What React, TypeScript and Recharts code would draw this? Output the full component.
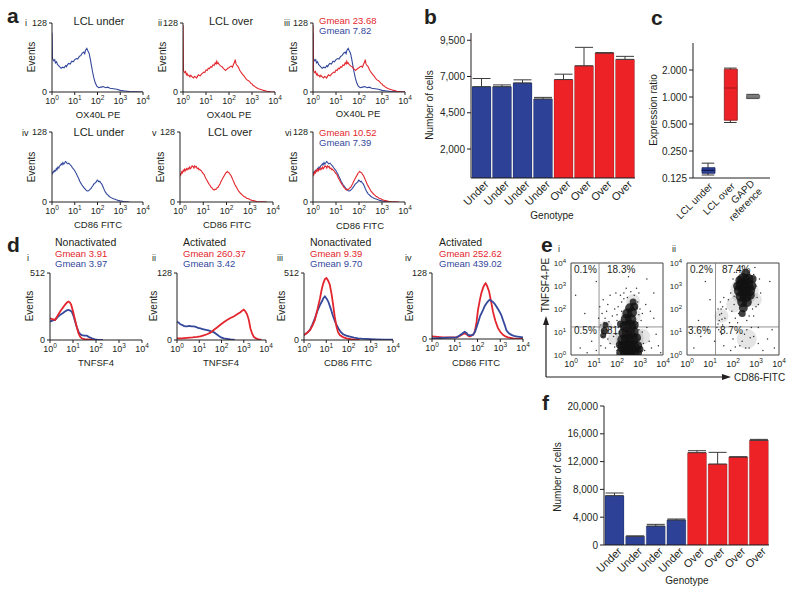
import React from 'react';
import {
  LineChart, Line, XAxis, YAxis, BarChart, Bar, Cell, ErrorBar,
  ComposedChart, ScatterChart, Scatter, ReferenceLine, ReferenceArea,
} from 'recharts';

const FONT = '"Liberation Sans", Arial, Helvetica, sans-serif';
const INK = '#231f20';
const BLUE = '#34489c';
const RED = '#e3262d';
const BAR_BLUE = '#2d4196';
const BAR_RED = '#ec2227';

type Pt = [number, number];
type Blob = [number, number, number];

// ---------- Panel a: histograms (x = log10 fluorescence, y = events) ----------
const underOX40L: Pt[] = [
  [0, 110], [0.02, 62], [0.08, 58], [0.12, 60], [0.15, 54], [0.2, 56], [0.24, 51], [0.27, 50], [0.33, 47], [0.4, 44], [0.47, 46],
  [0.53, 45], [0.6, 49], [0.64, 47], [0.67, 50], [0.73, 53], [0.8, 52], [0.87, 57], [0.93, 56], [1.0, 60], [1.07, 62],
  [1.13, 61], [1.2, 66], [1.27, 68], [1.33, 72], [1.4, 74], [1.44, 71], [1.47, 77], [1.53, 81], [1.58, 76], [1.63, 72],
  [1.68, 62], [1.73, 50], [1.78, 38], [1.84, 26], [1.9, 17], [1.97, 11], [2.05, 8], [2.15, 9], [2.25, 10],
  [2.35, 8], [2.45, 9], [2.55, 7], [2.7, 6], [2.85, 5], [3.0, 3], [3.2, 2], [3.4, 1], [3.7, 0.5], [4, 0],
];
const overOX40L: Pt[] = [
  [0, 124], [0.02, 40], [0.05, 37], [0.08, 36], [0.11, 38], [0.15, 32], [0.18, 34], [0.22, 30], [0.26, 31],
  [0.3, 28], [0.34, 31], [0.38, 29], [0.42, 27], [0.46, 26], [0.5, 29], [0.55, 28], [0.59, 26], [0.63, 29],
  [0.67, 32], [0.7, 31], [0.75, 30], [0.8, 33], [0.85, 35], [0.9, 37], [0.95, 36], [1.0, 41], [1.05, 40],
  [1.1, 44], [1.15, 43], [1.2, 47], [1.25, 46], [1.3, 50], [1.35, 49], [1.4, 54], [1.44, 52], [1.47, 57],
  [1.5, 53], [1.53, 54], [1.57, 51], [1.6, 50], [1.65, 48], [1.7, 47], [1.75, 44], [1.8, 42], [1.85, 40],
  [1.9, 42], [1.95, 44], [2.0, 45], [2.05, 47], [2.1, 48], [2.15, 46], [2.2, 52], [2.24, 55], [2.27, 60],
  [2.3, 53], [2.33, 50], [2.38, 48], [2.42, 45], [2.46, 41], [2.5, 38], [2.55, 35], [2.6, 32], [2.65, 30],
  [2.7, 27], [2.75, 24], [2.8, 22], [2.85, 21], [2.9, 19], [2.95, 16], [3.0, 15], [3.05, 12], [3.1, 11],
  [3.15, 9], [3.2, 8], [3.28, 6], [3.35, 5], [3.42, 4], [3.5, 3], [3.65, 1.5], [3.8, 0.5], [4, 0],
];
const underCD86: Pt[] = [
  [0, 54], [0.03, 52], [0.06, 56], [0.09, 55], [0.12, 58], [0.16, 57], [0.19, 61], [0.22, 59], [0.26, 64],
  [0.3, 62], [0.33, 66], [0.37, 67], [0.41, 70], [0.44, 68], [0.48, 72], [0.52, 69], [0.55, 71], [0.59, 74],
  [0.63, 73], [0.67, 70], [0.7, 70], [0.74, 71], [0.78, 69], [0.82, 67], [0.85, 66], [0.89, 63], [0.93, 61],
  [0.97, 59], [1.0, 57], [1.04, 54], [1.07, 52], [1.11, 48], [1.15, 45], [1.19, 41], [1.22, 38], [1.26, 35],
  [1.3, 32], [1.34, 30], [1.37, 28], [1.41, 26], [1.45, 24], [1.49, 22], [1.52, 21], [1.55, 20], [1.58, 20],
  [1.62, 21], [1.65, 22], [1.69, 24], [1.72, 25], [1.76, 28], [1.8, 30], [1.84, 33], [1.88, 34], [1.92, 36],
  [1.95, 37], [1.99, 40], [2.02, 39], [2.06, 37], [2.1, 38], [2.14, 35], [2.17, 34], [2.21, 31], [2.24, 28],
  [2.28, 24], [2.31, 21], [2.35, 18], [2.4, 15], [2.45, 13], [2.5, 11], [2.55, 9], [2.6, 8], [2.65, 7],
  [2.7, 6], [2.77, 5], [2.83, 4], [2.9, 3], [3.0, 2], [3.15, 1], [3.4, 0],
];
const overCD86: Pt[] = [
  [0, 52], [0.03, 49], [0.07, 55], [0.1, 53], [0.14, 58], [0.17, 56], [0.2, 60], [0.24, 57], [0.28, 61],
  [0.31, 59], [0.35, 62], [0.38, 60], [0.42, 64], [0.45, 61], [0.49, 63], [0.52, 66], [0.56, 65], [0.6, 62],
  [0.63, 66], [0.67, 64], [0.7, 65], [0.74, 61], [0.78, 62], [0.81, 59], [0.85, 60], [0.88, 58], [0.92, 57],
  [0.96, 54], [1.0, 52], [1.04, 50], [1.07, 47], [1.1, 44], [1.14, 41], [1.18, 38], [1.22, 35], [1.26, 32],
  [1.3, 30], [1.33, 27], [1.37, 26], [1.4, 24], [1.43, 23], [1.47, 22], [1.5, 23], [1.54, 23], [1.57, 24],
  [1.6, 26], [1.64, 27], [1.68, 30], [1.72, 33], [1.76, 37], [1.8, 40], [1.83, 43], [1.86, 45], [1.9, 48],
  [1.93, 50], [1.96, 53], [2.0, 54], [2.03, 56], [2.05, 55], [2.09, 54], [2.12, 53], [2.16, 50], [2.2, 48],
  [2.24, 44], [2.28, 40], [2.32, 36], [2.36, 32], [2.4, 29], [2.44, 26], [2.48, 23], [2.52, 20], [2.56, 18],
  [2.6, 16], [2.65, 14], [2.7, 12], [2.75, 10], [2.8, 9], [2.87, 7], [2.95, 6], [3.02, 4], [3.1, 3], [3.2, 2],
  [3.3, 1], [3.5, 0.5], [3.74, 0],
];

// ---------- Panel d: histograms ----------
const nonactTNFSF4Red: Pt[] = [
  [0, 166], [0.1, 160], [0.22, 154], [0.33, 185], [0.44, 218], [0.55, 245], [0.65, 269], [0.73, 285],
  [0.8, 294], [0.86, 288], [0.92, 270], [1.0, 220], [1.09, 154], [1.17, 95], [1.24, 51], [1.31, 25],
  [1.38, 13], [1.5, 7], [1.6, 5], [1.75, 2], [1.9, 0],
];
const nonactTNFSF4Blue: Pt[] = [
  [0, 141], [0.1, 148], [0.22, 154], [0.33, 175], [0.44, 192], [0.55, 205], [0.65, 218], [0.73, 226],
  [0.8, 230], [0.88, 225], [0.95, 215], [1.02, 185], [1.09, 141], [1.17, 95], [1.24, 64], [1.31, 45],
  [1.38, 38], [1.5, 34], [1.6, 33], [1.7, 22], [1.82, 12], [1.96, 5], [2.1, 1], [2.3, 0],
];
const actTNFSF4Red: Pt[] = [
  [0, 3], [0.2, 3], [0.45, 4], [0.7, 5], [0.9, 6], [1.05, 7], [1.2, 9], [1.35, 11], [1.5, 14], [1.65, 19],
  [1.8, 24], [1.95, 29], [2.1, 34], [2.25, 38], [2.4, 42], [2.55, 45], [2.7, 49], [2.85, 53], [2.93, 56],
  [3.0, 58], [3.07, 55], [3.15, 49], [3.23, 38], [3.3, 22], [3.38, 12], [3.45, 6], [3.55, 3], [3.67, 1], [3.8, 0],
];
const actTNFSF4Blue: Pt[] = [
  [0, 35], [0.08, 33], [0.15, 30], [0.22, 29], [0.3, 27], [0.38, 26], [0.45, 26], [0.55, 27], [0.65, 26],
  [0.75, 26], [0.85, 25], [0.95, 23], [1.05, 22], [1.15, 21], [1.25, 20], [1.35, 19], [1.45, 18], [1.55, 16],
  [1.65, 15], [1.75, 12], [1.87, 8], [1.98, 5], [2.1, 3], [2.25, 2], [2.4, 1], [2.6, 0],
];
const nonactCD86Red: Pt[] = [
  [0, 38], [0.14, 55], [0.27, 77], [0.38, 110], [0.49, 154], [0.6, 230], [0.72, 320], [0.8, 390], [0.87, 435],
  [0.94, 465], [1.01, 474], [1.08, 455], [1.16, 422], [1.24, 350], [1.31, 269], [1.38, 180], [1.46, 102],
  [1.53, 60], [1.61, 38], [1.75, 22], [1.91, 13], [2.1, 6], [2.3, 2], [2.5, 0],
];
const nonactCD86Blue: Pt[] = [
  [0, 38], [0.14, 55], [0.27, 77], [0.38, 120], [0.49, 166], [0.6, 220], [0.72, 269], [0.82, 300], [0.87, 320],
  [0.94, 333], [1.01, 318], [1.09, 294], [1.2, 240], [1.31, 179], [1.42, 130], [1.54, 90], [1.65, 62],
  [1.76, 44], [1.9, 33], [2.06, 26], [2.25, 18], [2.43, 13], [2.6, 10], [2.8, 8], [3.2, 5], [3.6, 3], [4, 2],
];
const actCD86Red: Pt[] = [
  [0, 5], [0.25, 4], [0.48, 3], [0.8, 3], [1.07, 3], [1.18, 5], [1.29, 8], [1.37, 10], [1.44, 11], [1.52, 9],
  [1.6, 6], [1.66, 5], [1.75, 7], [1.82, 9], [1.88, 14], [1.95, 30], [2.02, 56], [2.1, 75], [2.17, 89],
  [2.25, 100], [2.32, 106], [2.36, 108], [2.42, 103], [2.51, 92], [2.6, 72], [2.68, 53], [2.78, 36], [2.9, 21],
  [3.0, 14], [3.12, 8], [3.23, 5], [3.34, 3], [3.56, 1], [4, 0],
];
const actCD86Blue: Pt[] = [
  [0, 1], [0.5, 2], [1.07, 3], [1.18, 6], [1.29, 9], [1.37, 12], [1.44, 14], [1.52, 12], [1.58, 8], [1.7, 7],
  [1.8, 8], [1.9, 15], [2.02, 31], [2.12, 45], [2.24, 56], [2.32, 64], [2.39, 69], [2.46, 73], [2.53, 76],
  [2.6, 74], [2.68, 72], [2.76, 68], [2.83, 63], [2.9, 58], [2.97, 53], [3.05, 46], [3.12, 37], [3.2, 27],
  [3.27, 17], [3.38, 11], [3.49, 8], [3.6, 6], [3.71, 5], [3.85, 4], [4, 3],
];

// ---------- Panels b and f: bar charts ----------
const genotypeLabels = ['Under', 'Under', 'Under', 'Under', 'Over', 'Over', 'Over', 'Over'];
const bCells = [6300, 6300, 6560, 5450, 6790, 7740, 8620, 8180];
const bSem = [560, 120, 210, 110, 370, 1270, 25, 210];
const bTicks = [2000, 4500, 7000, 9500];
const fCells = [7100, 1250, 2730, 3600, 13290, 11650, 12660, 15060];
const fSem = [380, 60, 240, 140, 280, 1680, 40, 140];
const fTicks = [0, 4000, 8000, 12000, 16000, 20000];

// ---------- Panel c: box plot ----------
const cGroups = ['LCL under', 'LCL over', 'GAPD reference'];
const cMin = [0.135, 0.52, 0.96];
const cQ1 = [0.141, 0.55, 0.97];
const cMed = [0.152, 1.26, 1.0];
const cQ3 = [0.163, 2.04, 1.05];
const cMax = [0.183, 2.1, 1.07];
const cTicks = [0.125, 0.25, 0.5, 1, 2];

// ---------- Panel e: flow cytometry dot plots (log10 CD86, log10 TNFSF4) ----------
const eNonactSparse: Pt[] = [
  [1.35, 1.0], [1.42, 1.2], [1.5, 0.9], [1.45, 1.4], [1.38, 0.8], [1.55, 1.1], [1.48, 1.6], [1.6, 0.7],
  [1.3, 1.3], [1.52, 1.35], [1.4, 1.05], [1.57, 0.95], [1.25, 2.1], [1.4, 2.4], [1.55, 1.9], [1.35, 1.8],
  [1.6, 2.2], [1.2, 1.6], [1.3, 0.4], [1.5, 0.3], [1.7, 0.5], [1.8, 1.7], [1.9, 2.0], [1.75, 1.2],
  [1.85, 0.8], [2.0, 1.5], [2.05, 2.1], [2.1, 0.6], [2.15, 2.6], [2.2, 1.9], [2.3, 2.7], [2.45, 2.5],
  [2.6, 2.75], [2.75, 2.6], [2.9, 2.3], [3.0, 2.0], [3.05, 1.5], [3.1, 1.0], [3.15, 0.5], [3.2, 0.2],
  [3.3, 1.2], [3.4, 0.6], [3.5, 0.3], [3.6, 1.6], [2.95, 2.7], [2.85, 2.9], [2.4, 2.9], [1.95, 2.7],
  [3.25, 2.2], [3.45, 1.9], [3.7, 0.9], [3.8, 0.4], [2.0, 0.2], [1.9, 0.35], [0.4, 0.3], [0.6, 1.8],
  [0.9, 0.6], [0.2, 2.6], [1.1, 3.2], [3.3, 3.3], [2.5, 3.4], [0.7, 0.1], [1.1, 0.2], [3.9, 0.1], [3.6, 2.7],
  [2.05, 1.2], [1.95, 0.9], [3.0, 0.7], [3.1, 1.8], [2.9, 1.4], [2.2, 2.3], [1.65, 1.45], [1.7, 2.6],
  [2.95, 1.1], [3.05, 0.35], [2.0, 1.75], [2.1, 1.0], [2.95, 1.75], [2.85, 2.05], [2.3, 2.45], [1.62, 1.05],
];
const eNonactHaze: Blob[] = [
  [2.55, 0.7, 14], [2.6, 1.7, 10], [1.5, 1.2, 7], [2.7, 2.35, 7], [3.1, 0.8, 8], [1.85, 0.7, 6],
];
const eNonactCores: Blob[] = [
  [2.25, 0.1, 6.5], [2.45, 0.1, 7.5], [2.65, 0.1, 7.5], [2.85, 0.1, 5.5], [2.3, 0.35, 6.5], [2.5, 0.35, 7.5],
  [2.7, 0.35, 6.5], [2.9, 0.4, 4.5], [2.25, 0.65, 5.5], [2.45, 0.65, 6.5], [2.65, 0.7, 6.5], [2.85, 0.75, 4.5],
  [2.3, 0.95, 5.5], [2.5, 0.95, 6.5], [2.7, 1.0, 5.5], [2.35, 1.25, 5.5], [2.55, 1.25, 6.5], [2.75, 1.3, 4.5],
  [2.4, 1.55, 5.5], [2.6, 1.55, 5.5], [2.45, 1.8, 5], [2.65, 1.85, 5], [2.55, 2.05, 4.5], [2.75, 2.1, 4],
  [2.7, 2.3, 3.5], [2.15, 1.35, 3.5], [2.1, 0.45, 3.5], [3.0, 0.25, 3.5], [1.45, 1.05, 3.5], [1.5, 1.3, 3],
  [1.4, 0.85, 3],
];
const eActSparse: Pt[] = [
  [1.3, 1.2], [1.4, 1.5], [1.5, 1.8], [1.35, 2.0], [1.45, 2.3], [1.55, 1.3], [1.6, 2.5], [1.5, 0.9],
  [1.38, 1.1], [1.65, 1.6], [1.7, 2.0], [1.8, 2.4], [1.9, 2.7], [1.95, 1.9], [2.0, 3.3], [2.05, 2.2],
  [2.1, 1.6], [2.15, 3.6], [2.2, 1.4], [2.9, 3.5], [3.0, 3.0], [3.05, 2.5], [3.0, 2.1], [2.85, 2.0],
  [2.7, 1.7], [2.6, 1.5], [2.95, 3.8], [2.4, 3.85], [3.2, 2.7], [3.1, 1.2], [2.0, 0.7], [2.3, 0.4],
  [2.5, 0.9], [2.7, 0.3], [2.9, 0.8], [3.1, 0.5], [3.3, 0.2], [3.5, 0.7], [2.2, 1.0], [1.9, 0.2],
  [1.6, 0.4], [1.2, 0.6], [0.6, 0.8], [0.9, 1.1], [0.3, 0.3], [0.5, 1.5], [3.7, 1.1], [3.8, 0.3],
  [2.6, 1.1], [2.8, 1.2], [0.8, 3.2], [1.0, 2.4], [3.6, 3.2], [1.45, 1.0], [1.55, 2.1], [1.42, 1.75],
  [2.1, 2.9], [3.15, 3.3], [2.25, 1.8], [1.85, 1.4], [1.52, 1.55], [1.48, 2.0], [1.35, 1.35], [2.05, 2.55],
  [3.1, 2.2], [2.9, 1.7], [2.4, 0.6], [2.55, 0.3], [2.75, 0.75], [2.1, 0.35],
];
const eActHaze: Blob[] = [
  [2.5, 2.8, 14], [1.5, 1.7, 7], [2.6, 0.7, 10], [2.05, 2.2, 8], [2.95, 2.4, 7],
];
const eActCores: Blob[] = [
  [2.4, 3.05, 6.5], [2.6, 3.05, 6.5], [2.8, 3.0, 5], [2.3, 2.8, 6], [2.5, 2.8, 6.5], [2.7, 2.8, 6],
  [2.35, 2.55, 5.5], [2.55, 2.55, 6], [2.75, 2.6, 4.5], [2.4, 2.3, 5], [2.6, 2.3, 5], [2.45, 2.05, 4.5],
  [2.4, 1.8, 3.5], [2.45, 3.3, 6], [2.65, 3.3, 5.5], [2.55, 3.55, 4.5], [2.3, 3.25, 4.5], [2.85, 3.3, 4],
  [2.2, 3.0, 4.5],
];

const fmtThousands = (v: number) => String(v).replace(/\B(?=(\d{3})+(?!\d))/g, ',');

function LogTickX(props: any) {
  const { x, y, payload } = props;
  return (
    <text x={x} y={y + 7} textAnchor="middle" fontSize={9} fill={INK} fontFamily={FONT}>
      10<tspan dy={-4} fontSize={6.5}>{payload.value}</tspan>
    </text>
  );
}

function LogTickY(props: any) {
  const { x, y, payload } = props;
  return (
    <text x={x} y={y + 3} textAnchor="end" fontSize={8} fill={INK} fontFamily={FONT}>
      10<tspan dy={-3.5} fontSize={6}>{payload.value}</tspan>
    </text>
  );
}

type Series = { data: Pt[]; color: string };

function Histo({ l, t, r, b, yMax, series, sw }: { l: number; t: number; r: number; b: number; yMax: number; series: Series[]; sw: number }) {
  const W = 30, T = 6, R = 8, H = 22;
  const width = W + (r - l) + R;
  const height = T + (b - t) + H;
  return (
    <div style={{ position: 'absolute', left: l - W, top: t - T }}>
      <LineChart width={width} height={height} margin={{ top: T, right: R, bottom: 0, left: 0 }}>
        <XAxis type="number" dataKey="x" domain={[0, 4]} ticks={[0, 1, 2, 3, 4]} height={H} tick={<LogTickX />}
          tickSize={3} stroke={INK} allowDataOverflow interval={0} />
        <YAxis type="number" domain={[0, yMax]} ticks={[0, yMax]} width={W} tickSize={3}
          tick={{ fontSize: 9, fill: INK, fontFamily: FONT }} stroke={INK} allowDataOverflow interval={0} />
        {series.map((s, i) => (
          <Line key={i} data={s.data.map(([x, y]) => ({ x, y }))} dataKey="y" type="linear" stroke={s.color}
            strokeWidth={sw} dot={false} isAnimationActive={false} />
        ))}
      </LineChart>
    </div>
  );
}

function GenoTick(props: any) {
  const { x, y, payload } = props;
  return (
    <text transform={`translate(${x + 8},${y + 5}) rotate(-45)`} textAnchor="end" fontSize={11} fill={INK} fontFamily={FONT}>
      {genotypeLabels[payload.value]}
    </text>
  );
}

function CellBars({ l, t, r, b, values, sem, ticks, domain }: { l: number; t: number; r: number; b: number; values: number[]; sem: number[]; ticks: number[]; domain: [number, number] }) {
  const W = 40, T = 4, R = 4, H = 40;
  const data = values.map((v, i) => ({ id: i, v, e: [0, sem[i]] }));
  return (
    <div style={{ position: 'absolute', left: l - W, top: t - T }}>
      <BarChart width={W + (r - l) + R} height={T + (b - t) + H} data={data} margin={{ top: T, right: R, bottom: 0, left: 0 }} barCategoryGap={1}>
        <XAxis dataKey="id" type="category" height={H} tickLine={false} tickSize={0} interval={0} tick={<GenoTick />} stroke={INK} />
        <YAxis type="number" domain={domain} ticks={ticks} width={W} tickSize={4} interval={0} tickFormatter={fmtThousands}
          tick={{ fontSize: 10, fill: INK, fontFamily: FONT }} stroke={INK} allowDataOverflow />
        <Bar dataKey="v" isAnimationActive={false} stroke="rgba(0,0,0,0.3)" strokeWidth={0.6}>
          {data.map((d, i) => <Cell key={i} fill={genotypeLabels[i] === 'Under' ? BAR_BLUE : BAR_RED} />)}
          <ErrorBar dataKey="e" width={9} stroke="#3a3a3a" strokeWidth={1} direction="y" />
        </Bar>
      </BarChart>
    </div>
  );
}

const cFill = [BAR_BLUE, BAR_RED, '#a3a3a3'];
const cStroke = ['#1b2560', '#8a1c1c', '#555'];
const cMedColor = ['#0f1848', '#9b1b1e', '#555'];

function Whisker(p: any) {
  const { x, y, width, height } = p;
  const cx = x + width / 2;
  const y1 = Math.min(y, y + height), y2 = Math.max(y, y + height);
  const hw = width * 0.45;
  return (
    <g stroke="#333" strokeWidth={1}>
      <line x1={cx} x2={cx} y1={y1} y2={y2} />
      <line x1={cx - hw} x2={cx + hw} y1={y1} y2={y1} />
      <line x1={cx - hw} x2={cx + hw} y1={y2} y2={y2} />
    </g>
  );
}

function MedianMark(p: any) {
  return <line key={`m${p.index}`} x1={p.cx - 6.5} x2={p.cx + 6.5} y1={p.cy} y2={p.cy} stroke={cMedColor[p.index]} strokeWidth={1.2} />;
}

function GroupTick(props: any) {
  const { x, y, payload } = props;
  const label = String(payload.value);
  const lines = label === 'GAPD reference' ? ['GAPD', 'reference'] : [label];
  return (
    <text transform={`translate(${x + 5},${y + 7}) rotate(-45)`} textAnchor="end" fontSize={10} fill={INK} fontFamily={FONT}>
      {lines.map((ln, i) => (
        <tspan key={i} x={0} dy={i === 0 ? (lines.length > 1 ? -4 : 0) : 11}>{ln}</tspan>
      ))}
    </text>
  );
}

function BoxPanel() {
  const l = 693, t = 43, r = 770, b = 178;
  const W = 40, T = 4, R = 4, H = 60;
  const data = cGroups.map((name, i) => ({ name, box: [cQ1[i], cQ3[i]], wh: [cMin[i], cMax[i]], med: cMed[i] }));
  return (
    <div style={{ position: 'absolute', left: l - W, top: t - T }}>
      <ComposedChart width={W + (r - l) + R} height={T + (b - t) + H} data={data} margin={{ top: T, right: R, bottom: 0, left: 0 }}>
        <XAxis xAxisId="a" dataKey="name" height={H} tickLine={false} tickSize={0} interval={0} tick={<GroupTick />} stroke={INK} padding={{ left: 4, right: 6 }} />
        <XAxis xAxisId="b" dataKey="name" hide padding={{ left: 4, right: 6 }} />
        <YAxis scale="log" type="number" domain={[0.125, 4]} ticks={cTicks} width={W} tickSize={4} interval={0}
          tickFormatter={(v: number) => v.toFixed(3)} tick={{ fontSize: 10, fill: INK, fontFamily: FONT }} stroke={INK} allowDataOverflow />
        <Bar xAxisId="b" dataKey="wh" barSize={14} isAnimationActive={false} shape={Whisker} />
        <Bar xAxisId="a" dataKey="box" barSize={13} isAnimationActive={false}>
          {data.map((d, i) => <Cell key={i} fill={cFill[i]} stroke={cStroke[i]} strokeWidth={0.8} />)}
        </Bar>
        <Line xAxisId="a" dataKey="med" stroke="none" isAnimationActive={false} dot={MedianMark} activeDot={false} />
      </ComposedChart>
    </div>
  );
}

function SmallDot(p: any) {
  return <circle cx={p.cx} cy={p.cy} r={0.75} fill="#333" />;
}
function HazeDot(p: any) {
  return <circle cx={p.cx} cy={p.cy} r={p.payload.r} fill="#000" fillOpacity={0.1} />;
}
function CoreDot(p: any) {
  return <circle cx={p.cx} cy={p.cy} r={p.payload.r} fill="#111" fillOpacity={0.8} />;
}

function Flow({ l, t, sparse, haze, cores, v, h }: { l: number; t: number; sparse: Pt[]; haze: Blob[]; cores: Blob[]; v: number; h: number }) {
  const S = 92, W = 24, T = 8, R = 10, H = 16;
  return (
    <div style={{ position: 'absolute', left: l - W, top: t - T }}>
      <ScatterChart width={W + S + R} height={T + S + H} margin={{ top: T, right: R, bottom: 0, left: 0 }}>
        <XAxis type="number" dataKey="x" domain={[0, 4]} ticks={[0, 1, 2, 3, 4]} height={H} tick={<LogTickX />}
          tickLine={false} tickSize={3} axisLine={false} interval={0} allowDataOverflow />
        <YAxis type="number" dataKey="y" domain={[0, 4]} ticks={[0, 1, 2, 3, 4]} width={W} tick={<LogTickY />}
          tickLine={false} tickSize={3} axisLine={false} interval={0} allowDataOverflow />
        <Scatter data={haze.map(([x, y, r]) => ({ x, y, r }))} shape={HazeDot} isAnimationActive={false} />
        <Scatter data={sparse.map(([x, y]) => ({ x, y }))} shape={SmallDot} isAnimationActive={false} />
        <Scatter data={cores.map(([x, y, r]) => ({ x, y, r }))} shape={CoreDot} isAnimationActive={false} />
        <ReferenceLine x={v} stroke="#777" strokeWidth={0.8} />
        <ReferenceLine y={h} stroke="#777" strokeWidth={0.8} />
        <ReferenceArea x1={0} x2={4} y1={0} y2={4} fill="none" stroke="#444" strokeWidth={1} ifOverflow="visible" />
      </ScatterChart>
    </div>
  );
}

function Tx({ x, y, children, size = 10, anchor = 'start', color = INK, bold = false, rot = false }: any) {
  return (
    <text x={x} y={y} fontSize={size} fill={color} textAnchor={anchor} fontWeight={bold ? 'bold' : 'normal'}
      fontFamily={FONT} transform={rot ? `rotate(-90 ${x} ${y})` : undefined}>
      {children}
    </text>
  );
}

export default function App() {
  return (
    <div style={{ position: 'absolute', left: 0, top: 0, width: 800, height: 595, background: '#fff', fontFamily: FONT, overflow: 'hidden' }}>
      {/* Panel a */}
      <Histo l={52} t={23} r={143} b={92} yMax={128} sw={1.1} series={[{ data: underOX40L, color: BLUE }]} />
      <Histo l={183} t={23} r={275} b={92} yMax={128} sw={1.1} series={[{ data: overOX40L, color: RED }]} />
      <Histo l={313} t={23} r={405} b={92} yMax={128} sw={1.1} series={[{ data: underOX40L, color: BLUE }, { data: overOX40L, color: RED }]} />
      <Histo l={52} t={132} r={143} b={202} yMax={128} sw={1.1} series={[{ data: underCD86, color: BLUE }]} />
      <Histo l={180} t={132} r={273} b={202} yMax={128} sw={1.1} series={[{ data: overCD86, color: RED }]} />
      <Histo l={313} t={132} r={405} b={202} yMax={128} sw={1.1} series={[{ data: underCD86, color: BLUE }, { data: overCD86, color: RED }]} />

      {/* Panel d */}
      <Histo l={50} t={273} r={142} b={340} yMax={512} sw={1.8} series={[{ data: nonactTNFSF4Blue, color: BLUE }, { data: nonactTNFSF4Red, color: RED }]} />
      <Histo l={177} t={273} r={266} b={340} yMax={128} sw={1.8} series={[{ data: actTNFSF4Blue, color: BLUE }, { data: actTNFSF4Red, color: RED }]} />
      <Histo l={304} t={273} r={393} b={340} yMax={512} sw={1.8} series={[{ data: nonactCD86Blue, color: BLUE }, { data: nonactCD86Red, color: RED }]} />
      <Histo l={432} t={273} r={523} b={339} yMax={128} sw={1.8} series={[{ data: actCD86Red, color: RED }, { data: actCD86Blue, color: BLUE }]} />

      {/* Panel b */}
      <CellBars l={471} t={33} r={635} b={178} values={bCells} sem={bSem} ticks={bTicks} domain={[0, 10000]} />
      {/* Panel c */}
      <BoxPanel />
      {/* Panel e */}
      <Flow l={571} t={263} sparse={eNonactSparse} haze={eNonactHaze} cores={eNonactCores} v={1.22} h={1.22} />
      <Flow l={687} t={263} sparse={eActSparse} haze={eActHaze} cores={eActCores} v={1.24} h={1.22} />
      {/* Panel f */}
      <CellBars l={604} t={406} r={769} b={545} values={fCells} sem={fSem} ticks={fTicks} domain={[0, 20000]} />

      <svg width={800} height={595} style={{ position: 'absolute', left: 0, top: 0, pointerEvents: 'none' }}>
        {/* panel letters */}
        <Tx x={7} y={23} size={21} bold>a</Tx>
        <Tx x={424} y={24} size={21} bold>b</Tx>
        <Tx x={651} y={25} size={21} bold>c</Tx>
        <Tx x={7} y={252} size={21} bold>d</Tx>
        <Tx x={541} y={252} size={21} bold>e</Tx>
        <Tx x={542} y={410} size={21} bold>f</Tx>

        {/* panel a row 1 */}
        <Tx x={25} y={26} size={9}>i</Tx>
        <Tx x={158} y={26} size={9}>ii</Tx>
        <Tx x={284} y={26} size={9}>iii</Tx>
        <Tx x={99} y={25} size={11} anchor="middle">LCL under</Tx>
        <Tx x={231} y={25} size={11} anchor="middle">LCL over</Tx>
        <Tx x={319} y={24} size={9.5} color={RED}>Gmean 23.68</Tx>
        <Tx x={319} y={34} size={9.5} color={BLUE}>Gmean 7.82</Tx>
        <Tx x={35} y={57} size={10} anchor="middle" rot>Events</Tx>
        <Tx x={166} y={57} size={10} anchor="middle" rot>Events</Tx>
        <Tx x={297} y={57} size={10} anchor="middle" rot>Events</Tx>
        <Tx x={98} y={118} size={9.5} anchor="middle">OX40L PE</Tx>
        <Tx x={229} y={118} size={9.5} anchor="middle">OX40L PE</Tx>
        <Tx x={358} y={117} size={9.5} anchor="middle">OX40L PE</Tx>

        {/* panel a row 2 */}
        <Tx x={22} y={136} size={9}>iv</Tx>
        <Tx x={152} y={136} size={9}>v</Tx>
        <Tx x={285} y={136} size={9}>vi</Tx>
        <Tx x={99} y={136} size={11} anchor="middle">LCL under</Tx>
        <Tx x={230} y={136} size={11} anchor="middle">LCL over</Tx>
        <Tx x={319} y={136} size={9.5} color={RED}>Gmean 10.52</Tx>
        <Tx x={319} y={146} size={9.5} color={BLUE}>Gmean 7.39</Tx>
        <Tx x={35} y={167} size={10} anchor="middle" rot>Events</Tx>
        <Tx x={164} y={167} size={10} anchor="middle" rot>Events</Tx>
        <Tx x={297} y={167} size={10} anchor="middle" rot>Events</Tx>
        <Tx x={98} y={228} size={9.5} anchor="middle">CD86 FITC</Tx>
        <Tx x={227} y={228} size={9.5} anchor="middle">CD86 FITC</Tx>
        <Tx x={360} y={229} size={9.5} anchor="middle">CD86 FITC</Tx>

        {/* panel b */}
        <Tx x={433} y={105} size={10} anchor="middle" rot>Number of cells</Tx>
        <Tx x={552} y={219} size={10} anchor="middle">Genotype</Tx>

        {/* panel c */}
        <Tx x={657} y={110} size={10} anchor="middle" rot>Expression ratio</Tx>

        {/* panel d */}
        <Tx x={27} y={261} size={9}>i</Tx>
        <Tx x={152} y={261} size={9}>ii</Tx>
        <Tx x={277} y={261} size={9}>iii</Tx>
        <Tx x={405} y={261} size={9}>iv</Tx>
        <Tx x={55} y={246} size={10.5}>Nonactivated</Tx>
        <Tx x={183} y={246} size={10.5}>Activated</Tx>
        <Tx x={310} y={246} size={10.5}>Nonactivated</Tx>
        <Tx x={439} y={246} size={10.5}>Activated</Tx>
        <Tx x={55} y={256.5} size={9.5} color={RED}>Gmean 3.91</Tx>
        <Tx x={55} y={266.5} size={9.5} color={BLUE}>Gmean 3.97</Tx>
        <Tx x={183} y={256.5} size={9.5} color={RED}>Gmean 260.37</Tx>
        <Tx x={183} y={266.5} size={9.5} color={BLUE}>Gmean 3.42</Tx>
        <Tx x={310} y={256.5} size={9.5} color={RED}>Gmean 9.39</Tx>
        <Tx x={310} y={266.5} size={9.5} color={BLUE}>Gmean 9.70</Tx>
        <Tx x={439} y={256.5} size={9.5} color={RED}>Gmean 252.62</Tx>
        <Tx x={439} y={266.5} size={9.5} color={BLUE}>Gmean 439.02</Tx>
        <Tx x={33} y={306} size={10} anchor="middle" rot>Events</Tx>
        <Tx x={157} y={306} size={10} anchor="middle" rot>Events</Tx>
        <Tx x={285} y={306} size={10} anchor="middle" rot>Events</Tx>
        <Tx x={413} y={306} size={10} anchor="middle" rot>Events</Tx>
        <Tx x={96} y={366} size={9.5} anchor="middle">TNFSF4</Tx>
        <Tx x={221} y={366} size={9.5} anchor="middle">TNFSF4</Tx>
        <Tx x={348} y={366} size={9.5} anchor="middle">CD86 FITC</Tx>
        <Tx x={476} y={366} size={9.5} anchor="middle">CD86 FITC</Tx>

        {/* panel e */}
        <Tx x={558} y={252} size={9}>i</Tx>
        <Tx x={672} y={252} size={9}>ii</Tx>
        <Tx x={574} y={273} size={10}>0.1%</Tx>
        <Tx x={607} y={273} size={10}>18.3%</Tx>
        <Tx x={574} y={334} size={10}>0.5%</Tx>
        <Tx x={607} y={334} size={10}>81.2%</Tx>
        <Tx x={690} y={273} size={10}>0.2%</Tx>
        <Tx x={722} y={273} size={10}>87.4%</Tx>
        <Tx x={688} y={334} size={10}>3.6%</Tx>
        <Tx x={720} y={334} size={10}>8.7%</Tx>
        <line x1={546} y1={377} x2={546} y2={323} stroke={INK} strokeWidth={1.2} />
        <polygon points="546,316 543,325 549,325" fill={INK} />
        <line x1={546} y1={377} x2={724} y2={377} stroke={INK} strokeWidth={1.2} />
        <polygon points="731,377 722,374 722,380" fill={INK} />
        <Tx x={549} y={285} size={10} anchor="middle" rot>TNFSF4-PE</Tx>
        <Tx x={734} y={381} size={10}>CD86-FITC</Tx>

        {/* panel f */}
        <Tx x={561} y={477} size={10} anchor="middle" rot>Number of cells</Tx>
        <Tx x={687} y={584} size={10} anchor="middle">Genotype</Tx>
      </svg>
    </div>
  );
}
